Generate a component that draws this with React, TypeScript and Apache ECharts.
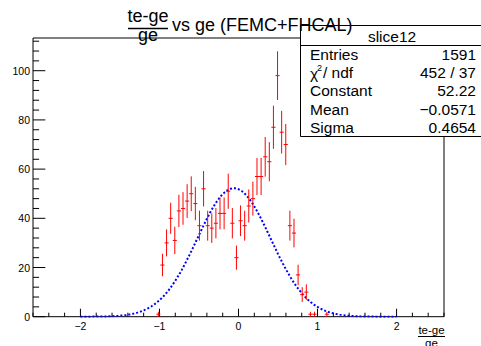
import React, { useEffect, useRef } from "react";
import * as echarts from "echarts";

// Histogram bins (centers), counts and errors
const binCenters = [
  -1.014, -0.962, -0.910, -0.858, -0.806, -0.754, -0.702, -0.650, -0.598, -0.546,
  -0.494, -0.442, -0.390, -0.338, -0.286, -0.234, -0.182, -0.130, -0.078, -0.026,
  0.026, 0.078, 0.130, 0.182, 0.234, 0.286, 0.338, 0.390, 0.442, 0.494,
  0.546, 0.598, 0.650, 0.702, 0.754, 0.806, 0.858, 0.910, 0.962, 1.118,
];
const counts = [
  1, 21, 30, 40, 31, 43, 44, 47, 50, 46,
  37, 52, 37, 36, 38, 42, 42, 51, 38, 24,
  39, 37, 45, 48, 57, 57, 65, 63, 77, 98,
  75, 70, 37, 34, 17, 9, 10, 1, 1, 1,
];
const errors = [
  1, 4.58, 5.48, 6.32, 5.57, 6.56, 6.63, 6.86, 7.07, 6.78,
  6.08, 7.21, 6.08, 6.0, 6.16, 6.48, 6.48, 7.14, 6.16, 4.9,
  6.24, 6.08, 6.71, 6.93, 7.55, 7.55, 8.06, 7.94, 8.77, 9.9,
  8.66, 8.37, 6.08, 5.83, 4.12, 3.0, 3.16, 1, 1, 1,
];
const binHalfWidth = 0.026;

// Gaussian fit parameters (stats box)
const fitConstant = 52.22;
const fitMean = -0.0571;
const fitSigma = 0.4654;
const fitRange = [-2, 2];

// Stats box
const statsTitle = "slice12";
const statsNames = ["Entries", "", "Constant", "Mean", "Sigma"];
const statsValues = ["1591", "452 / 37", "52.22", "\u22120.0571", "0.4654"];

// Axes
const xMin = -2.6;
const xMax = 2.6;
const yMin = 0;
const yMax = 113.3;
const xMajorTicks = [-2, -1, 0, 1, 2];
const xMinorTicks = [
  -2.6, -2.4, -2.2, -1.8, -1.6, -1.4, -1.2, -0.8, -0.6, -0.4, -0.2,
  0.2, 0.4, 0.6, 0.8, 1.2, 1.4, 1.6, 1.8, 2.2, 2.4, 2.6,
];
const yMajorTicks = [0, 20, 40, 60, 80, 100];
const yMinorTicks = [
  4, 8, 12, 16, 24, 28, 32, 36, 44, 48, 52, 56, 64, 68, 72, 76,
  84, 88, 92, 96, 104, 108, 112,
];

const FONT = "'Liberation Sans', Arial, Helvetica, sans-serif";
const RED = "#ff0000";

export default function App() {
  const ref = useRef<HTMLDivElement>(null);

  useEffect(() => {
    if (!ref.current) return;
    const chart = echarts.init(ref.current, undefined, { renderer: "svg" });

    const histData = binCenters.map((x, i) => [x, counts[i], errors[i]]);
    const curve: number[][] = [];
    for (let k = 0; k <= 200; k++) {
      const x = fitRange[0] + ((fitRange[1] - fitRange[0]) * k) / 200;
      const z = (x - fitMean) / fitSigma;
      curve.push([x, fitConstant * Math.exp(-0.5 * z * z)]);
    }

    const xTickData = [
      ...xMajorTicks.map((v) => [v, 8]),
      ...xMinorTicks.map((v) => [v, 4]),
    ];
    const yTickData = [
      ...yMajorTicks.map((v) => [v, 12.3]),
      ...yMinorTicks.map((v) => [v, 6.1]),
    ];

    const isInt = (v: number) => Math.abs(v - Math.round(v)) < 1e-6;
    const fmtNum = (v: number) => {
      const r = Math.round(v);
      return r < 0 ? "\u2212" + Math.abs(r) : String(r);
    };

    const SF = 15.5;
    const statsRowY = [54, 72.5, 90.7, 109, 127.3];
    const statsTexts: any[] = [];
    statsNames.forEach((n, i) => {
      if (n) {
        statsTexts.push({
          type: "text",
          x: 310,
          y: statsRowY[i],
          z: 20,
          style: { text: n, font: `${SF}px ${FONT}`, fill: "#000", verticalAlign: "middle", align: "left" },
        });
      }
      statsTexts.push({
        type: "text",
        x: 476,
        y: statsRowY[i],
        z: 20,
        style: { text: statsValues[i], font: `${SF}px ${FONT}`, fill: "#000", verticalAlign: "middle", align: "right" },
      });
    });
    // chi2 / ndf label
    statsTexts.push(
      { type: "text", x: 310, y: statsRowY[1] + 1, z: 20, style: { text: "\u03c7", font: `${SF}px ${FONT}`, fill: "#000", verticalAlign: "middle", align: "left" } },
      { type: "text", x: 317, y: statsRowY[1] - 4.5, z: 20, style: { text: "2", font: `9px ${FONT}`, fill: "#000", verticalAlign: "middle", align: "left" } },
      { type: "text", x: 323, y: statsRowY[1], z: 20, style: { text: "/ ndf", font: `${SF}px ${FONT}`, fill: "#000", verticalAlign: "middle", align: "left" } }
    );

    chart.setOption({
      animation: false,
      backgroundColor: "#fff",
      grid: {
        left: 33,
        top: 38,
        width: 411,
        height: 278.7,
        show: true,
        borderColor: "#000",
        borderWidth: 1,
        backgroundColor: "transparent",
      },
      xAxis: {
        type: "value",
        min: xMin,
        max: xMax,
        interval: 0.2,
        axisLine: { show: false },
        axisTick: { show: false },
        splitLine: { show: false },
        axisLabel: {
          margin: 4,
          color: "#000",
          fontFamily: FONT,
          fontSize: 10.5,
          showMinLabel: true,
          showMaxLabel: true,
          formatter: (v: number) => (isInt(v) ? fmtNum(v) : ""),
        },
      },
      yAxis: {
        type: "value",
        min: yMin,
        max: yMax,
        interval: 4,
        axisLine: { show: false },
        axisTick: { show: false },
        splitLine: { show: false },
        axisLabel: {
          margin: 3,
          color: "#000",
          fontFamily: FONT,
          fontSize: 10.5,
          formatter: (v: number) => (isInt(v) && Math.round(v) % 20 === 0 ? String(Math.round(v)) : ""),
        },
      },
      series: [
        {
          type: "custom",
          name: "xticks",
          data: xTickData,
          silent: true,
          clip: false,
          renderItem: (params: any, api: any) => {
            const p = api.coord([api.value(0), yMin]);
            const len = api.value(1);
            return {
              type: "line",
              shape: { x1: p[0], y1: p[1], x2: p[0], y2: p[1] - len },
              style: { stroke: "#000", lineWidth: 1, fill: "none" },
            };
          },
        },
        {
          type: "custom",
          name: "yticks",
          data: yTickData.map((d) => [xMin, d[0], d[1]]),
          silent: true,
          clip: false,
          renderItem: (params: any, api: any) => {
            const p = api.coord([xMin, api.value(1)]);
            const len = api.value(2);
            return {
              type: "line",
              shape: { x1: p[0], y1: p[1], x2: p[0] + len, y2: p[1] },
              style: { stroke: "#000", lineWidth: 1, fill: "none" },
            };
          },
        },
        {
          type: "line",
          name: "fit",
          data: curve,
          showSymbol: false,
          symbol: "none",
          smooth: false,
          lineStyle: { color: "#0000ff", width: 2, type: [2, 2] },
          z: 3,
        },
        {
          type: "custom",
          name: "hist",
          data: histData,
          z: 4,
          itemStyle: { color: RED },
          renderItem: (params: any, api: any) => {
            const x = api.value(0);
            const y = api.value(1);
            const e = api.value(2);
            const top = api.coord([x, y + e]);
            const bot = api.coord([x, Math.max(0, y - e)]);
            const l = api.coord([x - binHalfWidth, y]);
            const r = api.coord([x + binHalfWidth, y]);
            return {
              type: "group",
              children: [
                { type: "line", shape: { x1: top[0], y1: top[1], x2: bot[0], y2: bot[1] }, style: { stroke: RED, lineWidth: 1, fill: "none" } },
                { type: "line", shape: { x1: l[0], y1: l[1], x2: r[0], y2: r[1] }, style: { stroke: RED, lineWidth: 1, fill: "none" } },
              ],
            };
          },
        },
      ],
      graphic: [
        // stats box
        { type: "rect", z: 10, shape: { x: 300.5, y: 25.5, width: 200, height: 111 }, style: { fill: "#fff", stroke: "#000", lineWidth: 1 } },
        { type: "line", z: 11, shape: { x1: 300.5, y1: 45.5, x2: 481, y2: 45.5 }, style: { stroke: "#000", lineWidth: 1 } },
        { type: "text", z: 20, x: 392, y: 36, style: { text: statsTitle, font: `${SF}px ${FONT}`, fill: "#000", align: "center", verticalAlign: "middle" } },
        ...statsTexts,
        // title
        { type: "text", z: 30, x: 148, y: 16, style: { text: "te-ge", font: `18px ${FONT}`, fill: "#000", align: "center", verticalAlign: "middle" } },
        { type: "line", z: 30, shape: { x1: 128, y1: 28.5, x2: 168, y2: 28.5 }, style: { stroke: "#000", lineWidth: 1.3 } },
        { type: "text", z: 30, x: 148, y: 35, style: { text: "ge", font: `18px ${FONT}`, fill: "#000", align: "center", verticalAlign: "middle" } },
        { type: "text", z: 30, x: 172, y: 25, style: { text: "vs ge (FEMC+FHCAL)", font: `18px ${FONT}`, fill: "#000", align: "left", verticalAlign: "middle" } },
        // x-axis title
        { type: "text", z: 30, x: 431.5, y: 329.5, style: { text: "te-ge", font: `11.5px ${FONT}`, fill: "#000", align: "center", verticalAlign: "middle" } },
        { type: "line", z: 30, shape: { x1: 418, y1: 336.5, x2: 445, y2: 336.5 }, style: { stroke: "#000", lineWidth: 1 } },
        { type: "text", z: 30, x: 431.5, y: 343, style: { text: "ge", font: `11.5px ${FONT}`, fill: "#000", align: "center", verticalAlign: "middle" } },
      ],
    });

    return () => chart.dispose();
  }, []);

  return (
    <div
      ref={ref}
      style={{ position: "fixed", left: 0, top: 0, width: 481, height: 346, background: "#fff" }}
    />
  );
}
